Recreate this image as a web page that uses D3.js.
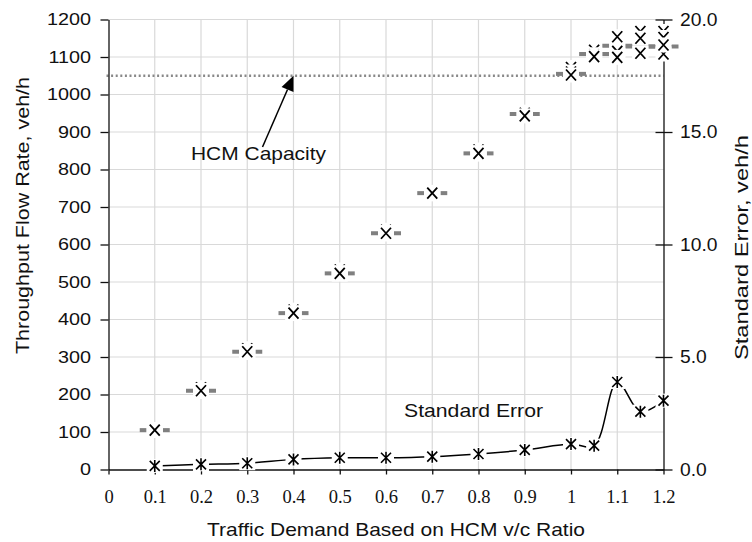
<!DOCTYPE html>
<html>
<head>
<meta charset="utf-8">
<script src="https://cdn.jsdelivr.net/npm/d3@7"></script>
<style>
  body { margin: 0; background: #fff; }
  svg { display: block; font-family: "Liberation Sans", Arial, sans-serif; }
</style>
</head>
<body>
<svg id="chart" width="752" height="542"></svg>
<script>
// v/c ratio per scenario
var demand = [0.1, 0.2, 0.3, 0.4, 0.5, 0.6, 0.7, 0.8, 0.9, 1.0, 1.05, 1.1, 1.15, 1.2];
// average throughput (gray dash)
var flowMean = [105, 210, 314, 417, 523, 630, 737, 843, 948, 1055, 1108, 1130, 1128, 1128];
// individual runs (X markers)
var flowRun1 = [106, 218, 322, 425, 532, 638, 739, 852, 953, 1072, 1118, 1120, 1168, 1168];
var flowRun2 = [104, 208, 312, 416, 521, 628, 735, 841, 946, 1058, 1106, 1115, 1150, 1152];
var flowRun3 = [106, 211, 315, 418, 525, 632, 738, 845, 950, 1060, 1098, 1154, 1110, 1108];
var flowRun4 = [105, 210, 314, 417, 523, 630, 737, 843, 943, 1052, 1101, 1099, 1110, 1132];
// standard error, right axis
var stdError = [0.16, 0.23, 0.28, 0.45, 0.52, 0.52, 0.57, 0.69, 0.87, 1.13, 1.06, 3.89, 2.57, 3.06];
var hcmCapacity = 1050;

var xTicks = [0, 0.1, 0.2, 0.3, 0.4, 0.5, 0.6, 0.7, 0.8, 0.9, 1.0, 1.1, 1.2];
var yTicks = [0, 100, 200, 300, 400, 500, 600, 700, 800, 900, 1000, 1100, 1200];
var y2Ticks = [0, 5, 10, 15, 20];

var svg = d3.select("#chart");

var x = d3.scaleLinear().domain([0, 1.2]).range([108.5, 663.5]);
var y = d3.scaleLinear().domain([0, 1200]).range([469.5, 19.5]);
var y2 = d3.scaleLinear().domain([0, 20]).range([469.5, 19.5]);

// grid
var grid = svg.append("g").attr("class", "grid");
grid.selectAll("line.h")
    .data(yTicks.slice(1))
    .enter().append("line")
    .attr("x1", x(0)).attr("x2", x(1.2))
    .attr("y1", d => y(d)).attr("y2", d => y(d))
    .style("stroke", "#d9d9d9").style("stroke-width", 1.2);
grid.selectAll("line.v")
    .data(xTicks.slice(1, -1))
    .enter().append("line")
    .attr("x1", d => x(d)).attr("x2", d => x(d))
    .attr("y1", y(0)).attr("y2", y(1200))
    .style("stroke", "#d9d9d9").style("stroke-width", 1.2);

// HCM capacity line
svg.append("line")
    .attr("x1", x(0) - 2).attr("x2", x(1.2))
    .attr("y1", y(hcmCapacity)).attr("y2", y(hcmCapacity))
    .style("stroke", "#888").style("stroke-width", 2.5)
    .style("stroke-dasharray", "2,2.6");

// axes
var xAxis = svg.append("g")
    .attr("transform", "translate(0," + y(0) + ")")
    .call(d3.axisBottom(x).tickValues(xTicks).tickSize(5).tickSizeOuter(0)
        .tickFormat(d => String(+d.toFixed(1))));
xAxis.attr("font-family", "Liberation Serif").attr("font-size", null);
xAxis.selectAll("text")
    .attr("y", 33.5).attr("dy", 0)
    .style("font-family", "'Liberation Serif', 'DejaVu Serif', serif")
    .style("font-size", "18.5px").style("fill", "#111");

var yAxis = svg.append("g")
    .attr("transform", "translate(" + x(0) + ",0)")
    .call(d3.axisLeft(y).tickValues(yTicks).tickSize(8).tickSizeOuter(0)
        .tickFormat(d3.format("d")));
yAxis.attr("font-family", null).attr("font-size", null);
yAxis.selectAll("text")
    .attr("x", -14.5)
    .attr("transform", "scale(1.2,1)")
    .style("font-size", "16.5px").style("fill", "#111");

var y2Axis = svg.append("g")
    .attr("transform", "translate(" + x(1.2) + ",0)")
    .call(d3.axisRight(y2).tickValues(y2Ticks).tickSize(9).tickSizeOuter(0)
        .tickFormat(d3.format(".1f")));
y2Axis.attr("font-family", null).attr("font-size", null);
y2Axis.selectAll(".tick line").attr("x1", -8);
y2Axis.selectAll("text")
    .attr("x", 15)
    .attr("transform", "scale(1.1,1)")
    .style("font-size", "17.5px").style("fill", "#111");

svg.selectAll(".domain, .tick line").style("stroke", "#111").style("stroke-width", 1.3);

// average throughput dashes
svg.append("g").selectAll("rect")
    .data(demand.map((d, i) => [d, flowMean[i]]))
    .enter().append("rect")
    .attr("x", d => x(d[0]) - 15).attr("y", d => y(d[1]) - 2)
    .attr("width", 30).attr("height", 4)
    .style("fill", "#808080");

// X markers of each run
function crossMark(g) {
    g.append("rect").attr("x", -8).attr("y", -7.5).attr("width", 16).attr("height", 15)
        .style("fill", "#fff");
    g.append("path").attr("d", "M-5,-5.5L5,5.5M-5,5.5L5,-5.5")
        .style("stroke", "#000").style("stroke-width", 1.8).style("fill", "none");
}
[flowRun1, flowRun2, flowRun3, flowRun4].forEach(function (run) {
    svg.append("g").selectAll("g")
        .data(demand.map((d, i) => [d, run[i]]))
        .enter().append("g")
        .attr("transform", d => "translate(" + x(d[0]) + "," + y(d[1]) + ")")
        .each(function () { crossMark(d3.select(this)); });
});

// standard error line
var seData = demand.map((d, i) => [d, stdError[i]]);
svg.append("path")
    .datum(seData)
    .attr("d", d3.line().x(d => x(d[0])).y(d => y2(d[1])).curve(d3.curveCatmullRom.alpha(0.5)))
    .style("fill", "none").style("stroke", "#000").style("stroke-width", 1.5);

var seMarks = svg.append("g").selectAll("g")
    .data(seData)
    .enter().append("g")
    .attr("transform", d => "translate(" + x(d[0]) + "," + y2(d[1]) + ")");
seMarks.append("rect").attr("x", -8).attr("y", -7).attr("width", 16).attr("height", 14)
    .style("fill", "#fff");
seMarks.append("path").attr("d", "M-5,-5L5,5M-5,5L5,-5M0,-6L0,6")
    .style("stroke", "#000").style("stroke-width", 1.6).style("fill", "none");

// annotations
var arrowTail = [0.333, 860];
var tipX = x(0.4), tipY = y(hcmCapacity);
var tailX = x(arrowTail[0]), tailY = y(arrowTail[1]);
var ang = Math.atan2(tipY - tailY, tipX - tailX);
var headLen = 15, headW = 6.5;
var bx = tipX - headLen * Math.cos(ang), by = tipY - headLen * Math.sin(ang);
svg.append("line")
    .attr("x1", tailX).attr("y1", tailY).attr("x2", bx).attr("y2", by)
    .style("stroke", "#000").style("stroke-width", 1.5);
svg.append("path")
    .attr("d", "M" + tipX + "," + tipY +
        "L" + (bx + headW * Math.sin(ang)) + "," + (by - headW * Math.cos(ang)) +
        "L" + (bx - headW * Math.sin(ang)) + "," + (by + headW * Math.cos(ang)) + "Z")
    .style("fill", "#000");

svg.append("text").attr("x", 191).attr("y", 160)
    .attr("textLength", 135).attr("lengthAdjust", "spacingAndGlyphs")
    .style("font-size", "18.5px").style("fill", "#111")
    .text("HCM Capacity");
svg.append("text").attr("x", 404).attr("y", 416.5)
    .attr("textLength", 139).attr("lengthAdjust", "spacingAndGlyphs")
    .style("font-size", "18.5px").style("fill", "#111")
    .text("Standard Error");

// axis titles
svg.append("text")
    .attr("x", 207).attr("y", 536)
    .attr("textLength", 378).attr("lengthAdjust", "spacingAndGlyphs")
    .style("font-size", "19px").style("fill", "#111")
    .text("Traffic Demand Based on HCM v/c Ratio");
svg.append("text")
    .attr("transform", "translate(29,354) rotate(-90)")
    .attr("textLength", 277).attr("lengthAdjust", "spacingAndGlyphs")
    .style("font-size", "19px").style("fill", "#111")
    .text("Throughput Flow Rate, veh/h");
svg.append("text")
    .attr("transform", "translate(747.5,360) rotate(-90)")
    .attr("textLength", 225).attr("lengthAdjust", "spacingAndGlyphs")
    .style("font-size", "18.5px").style("fill", "#111")
    .text("Standard Error, veh/h");
</script>
</body>
</html>
